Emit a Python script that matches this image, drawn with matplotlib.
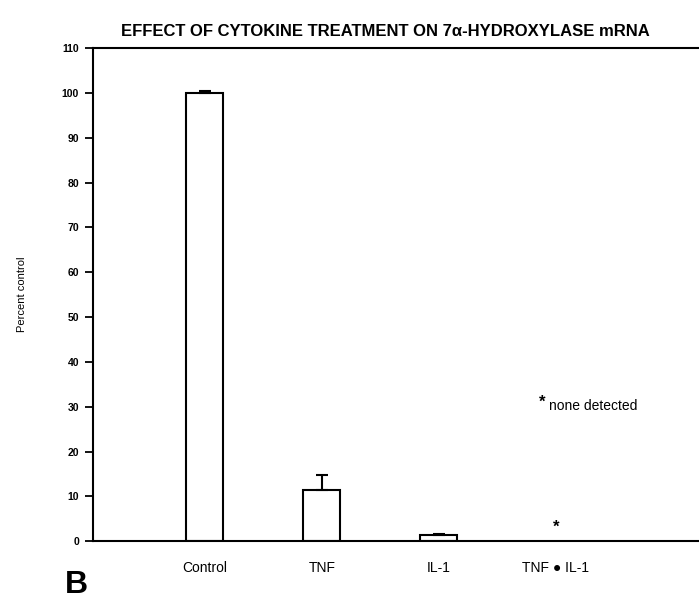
import matplotlib
matplotlib.use("Agg")
import matplotlib.pyplot as plt
import numpy as np

categories = ["Control", "TNF", "IL-1", "TNF \u25cf IL-1"]
values = [100.0, 11.4, 1.3, 0.0]
errors = [0.4, 3.4, 0.3, 0.0]
detected = [True, True, True, False]
star_value = 3.0
yticks = list(range(0, 111, 10))

plt.rcParams['font.family'] = ['Liberation Sans', 'DejaVu Sans']

fig = plt.figure(figsize=(6.99, 6.0), dpi=100)
ax = fig.add_axes([0.133, 0.098, 0.9, 0.822])

x = np.arange(len(categories))
det_x = [xi for xi, d in zip(x, detected) if d]
det_v = [v for v, d in zip(values, detected) if d]
det_e = [e for e, d in zip(errors, detected) if d]
ax.bar(det_x, det_v, width=0.316, facecolor='white', edgecolor='black', linewidth=1.5)
ax.errorbar(det_x, det_v, yerr=[np.zeros(len(det_e)), det_e], fmt='none',
            ecolor='black', elinewidth=1.5, capsize=4, capthick=1.5)
for xi, d in zip(x, detected):
    if not d:
        ax.text(xi, star_value, '*', ha='center', va='center', fontsize=12, fontweight='bold')

ax.text(2.88, 31, '*', ha='center', va='center', fontsize=12, fontweight='bold')
ax.text(2.94, 30.2, 'none detected', ha='left', va='center', fontsize=10)

ax.set_xlim(-0.957, 4.42)
ax.set_ylim(0, 110)
ax.set_yticks(yticks)
ax.set_yticklabels([str(t) for t in yticks], fontsize=7.5, fontweight='bold')
ax.set_xticks(x)
ax.set_xticklabels(categories, fontsize=10)
ax.tick_params(axis='x', length=0, pad=14)
ax.tick_params(axis='y', direction='out', length=6, width=1.3, pad=4)
for s in ['left', 'bottom', 'top']:
    ax.spines[s].set_linewidth(1.5)
ax.spines['right'].set_visible(False)

ax.set_ylabel('Percent control', fontsize=8, labelpad=25)
fig.text(0.551, 0.948, 'EFFECT OF CYTOKINE TREATMENT ON 7\u03b1-HYDROXYLASE mRNA',
         ha='center', va='center', fontsize=12, fontweight='bold')
fig.text(0.093, 0.025, 'B', ha='left', va='center', fontsize=23, fontweight='bold')

fig.savefig('out.png', dpi=100)
